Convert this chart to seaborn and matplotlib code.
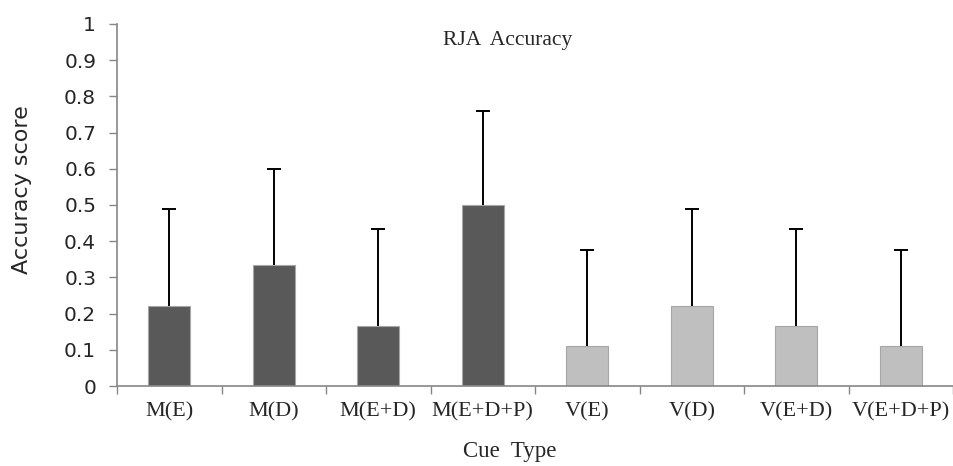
import matplotlib
matplotlib.use("Agg")
import matplotlib.pyplot as plt
from matplotlib.ticker import FixedLocator
import seaborn as sns
import pandas as pd
import numpy as np

categories = ["M(E)", "M(D)", "M(E+D)", "M(E+D+P)", "V(E)", "V(D)", "V(E+D)", "V(E+D+P)"]
accuracy = [0.222, 0.333, 0.167, 0.500, 0.111, 0.222, 0.167, 0.111]
error_upper = [0.268, 0.267, 0.266, 0.260, 0.266, 0.268, 0.266, 0.266]
modality = ["M", "M", "M", "M", "V", "V", "V", "V"]
yticks = [0, 0.1, 0.2, 0.3, 0.4, 0.5, 0.6, 0.7, 0.8, 0.9, 1]
ytick_labels = ["0", "0.1", "0.2", "0.3", "0.4", "0.5", "0.6", "0.7", "0.8", "0.9", "1"]

sns.set_style("white")
plt.rcParams["font.family"] = ["DejaVu Sans"]

df = pd.DataFrame({"cue": categories, "acc": accuracy, "mod": modality})

fig = plt.figure(figsize=(9.54, 4.66), dpi=100)
ax = fig.add_axes([117 / 954, 1 - 386 / 466, 0.999 - 117 / 954, (386 - 24) / 466])

sns.barplot(data=df, x="cue", y="acc", hue="mod",
            palette={"M": "#595959", "V": "#bfbfbf"}, dodge=False,
            width=0.4, edgecolor="#a6a6a6", linewidth=0.8, legend=False, ax=ax)

eb = ax.errorbar(categories, accuracy, yerr=[np.zeros(len(accuracy)), error_upper],
                 fmt="none", ecolor="black", elinewidth=1.4, capsize=5, capthick=1.4, zorder=5)
# keep only the upper caps
for cl in eb[1]:
    yd = np.asarray(cl.get_ydata(), dtype=float)
    if np.allclose(yd, accuracy):
        cl.set_visible(False)

ax.set_xlim(-0.5, len(categories) - 0.5)
ax.set_ylim(0, 1)
ax.set_yticks(yticks)
ax.set_yticklabels(ytick_labels)
ax.tick_params(axis="y", direction="out", length=6, width=1, color="#868686",
               labelsize=14.5, pad=9, left=True)
ax.tick_params(axis="x", which="major", length=0, pad=12)
ax.xaxis.set_minor_locator(FixedLocator(np.arange(-0.5, len(categories), 1.0)))
ax.tick_params(axis="x", which="minor", direction="out", length=6, width=1,
               color="#868686", bottom=True)
for lab in ax.get_xticklabels():
    lab.set_family(["Liberation Serif"])
    lab.set_fontsize(16)

for side in ["top", "right"]:
    ax.spines[side].set_visible(False)
for side in ["left", "bottom"]:
    ax.spines[side].set_color("#868686")
    ax.spines[side].set_linewidth(1.2)

ax.set_xlabel("")
ax.set_ylabel("")

fig.text(508 / 954, 1 - 40 / 466, "RJA  Accuracy", ha="center", va="center",
         family=["Liberation Serif"], fontsize=15.5)
fig.text(510 / 954, 1 - 451 / 466, "Cue  Type", ha="center", va="center",
         family=["Liberation Serif"], fontsize=16.5)
fig.text(22 / 954, 1 - 190 / 466, "Accuracy score", ha="center", va="center",
         rotation=90, fontsize=16)

fig.savefig("out.png", dpi=100)
